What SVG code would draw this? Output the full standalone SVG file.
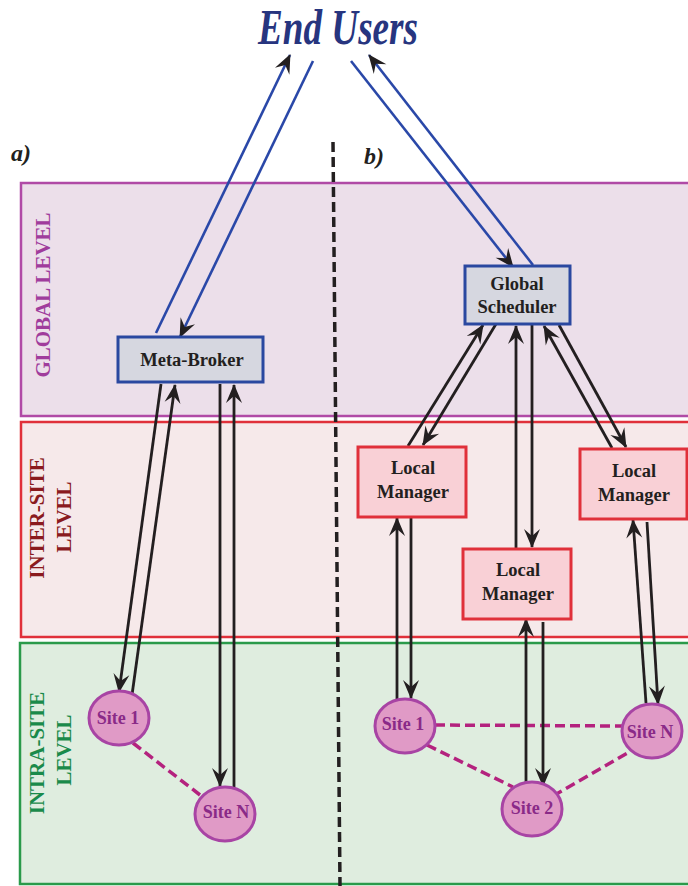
<svg xmlns="http://www.w3.org/2000/svg" width="688" height="886" viewBox="0 0 688 886">
<style>
.box{stroke-width:3}
.gb{fill:#d6d7e0;stroke:#2a48a0}
.lm{fill:#f9d0d6;stroke:#e0303a}
.site{fill:#e09ac6;stroke:#a844a4;stroke-width:3}
.bt{font-family:"Liberation Serif",serif;font-weight:bold;font-size:18.5px;fill:#231f20;text-anchor:middle}
.st{font-family:"Liberation Serif",serif;font-weight:bold;font-size:18px;fill:#8a2a88;text-anchor:middle}
.lv{font-family:"Liberation Serif",serif;font-weight:bold;font-size:21px;text-anchor:middle}
.u{stroke:#2a48a8;stroke-width:2.6;fill:none}
.k{stroke:#231f20;stroke-width:2.8;fill:none}
.d{stroke:#b4227e;stroke-width:3.5;stroke-dasharray:10 5;fill:none}
</style>
<defs>
<marker id="ah" viewBox="-19 -9 20 18" refX="0" refY="0" markerWidth="20" markerHeight="18" markerUnits="userSpaceOnUse" orient="auto">
<path d="M1,0 L-18,-8 L-11,0 L-18,8 Z" fill="#231f20"/>
</marker>
</defs>
<g id="bands">
<rect id="global-level" x="21" y="183" width="690" height="233" fill="#ecdfea" stroke="#b04aa6" stroke-width="2.5"/>
<rect id="inter-site-level" x="21" y="422" width="690" height="215" fill="#f6e9ea" stroke="#e0303a" stroke-width="2.5"/>
<rect id="intra-site-level" x="20" y="643" width="690" height="241" fill="#dfeddf" stroke="#2a9a4a" stroke-width="2.5"/>
</g>
<g id="labels">
<text x="258" y="44" font-family="Liberation Serif, serif" font-weight="bold" font-style="italic" font-size="50" fill="#27357f" textLength="160" lengthAdjust="spacingAndGlyphs">End Users</text>
<text x="11" y="161" font-family="Liberation Serif, serif" font-weight="bold" font-style="italic" font-size="24" fill="#231f20">a)</text>
<text x="364" y="164" font-family="Liberation Serif, serif" font-weight="bold" font-style="italic" font-size="24" fill="#231f20">b)</text>
<text class="lv" transform="translate(50,295) rotate(-90)" fill="#a03c9c">GLOBAL LEVEL</text>
<text class="lv" transform="translate(44,518) rotate(-90)" fill="#8a1a1e">INTER-SITE</text>
<text class="lv" transform="translate(71,517) rotate(-90)" fill="#8a1a1e">LEVEL</text>
<text class="lv" transform="translate(44,753) rotate(-90)" fill="#1a8a4a">INTRA-SITE</text>
<text class="lv" transform="translate(71,750) rotate(-90)" fill="#1a8a4a">LEVEL</text>
</g>
<line id="divider" x1="333" y1="142" x2="340" y2="886" stroke="#231f20" stroke-width="3.5" stroke-dasharray="10 5"/>
<g id="connectors">
<line class="d" x1="133" y1="743" x2="200" y2="795"/>
<line class="d" x1="435" y1="725" x2="622" y2="726"/>
<line class="d" x1="427" y1="745" x2="513" y2="787"/>
<line class="d" x1="553" y1="796" x2="631" y2="751"/>
<line class="u" x1="156" y1="333" x2="290" y2="55" marker-end="url(#ah)"/>
<line class="u" x1="313" y1="61" x2="180" y2="337" marker-end="url(#ah)"/>
<line class="u" x1="351" y1="61" x2="513" y2="267" marker-end="url(#ah)"/>
<line class="u" x1="533" y1="265" x2="369" y2="55" marker-end="url(#ah)"/>
<line class="k" x1="161" y1="384" x2="119" y2="692" marker-end="url(#ah)"/>
<line class="k" x1="132" y1="695" x2="175" y2="385" marker-end="url(#ah)"/>
<line class="k" x1="220" y1="384" x2="220" y2="786" marker-end="url(#ah)"/>
<line class="k" x1="234" y1="790" x2="234" y2="385" marker-end="url(#ah)"/>
<line class="k" x1="408" y1="446" x2="483" y2="325" marker-end="url(#ah)"/>
<line class="k" x1="496" y1="324" x2="423" y2="445" marker-end="url(#ah)"/>
<line class="k" x1="516" y1="548" x2="516" y2="326" marker-end="url(#ah)"/>
<line class="k" x1="532" y1="325" x2="532" y2="547" marker-end="url(#ah)"/>
<line class="k" x1="612" y1="448" x2="544" y2="326" marker-end="url(#ah)"/>
<line class="k" x1="559" y1="325" x2="626" y2="447" marker-end="url(#ah)"/>
<line class="k" x1="397" y1="701" x2="397" y2="518" marker-end="url(#ah)"/>
<line class="k" x1="411" y1="518" x2="411" y2="698" marker-end="url(#ah)"/>
<line class="k" x1="526" y1="782" x2="526" y2="619" marker-end="url(#ah)"/>
<line class="k" x1="543" y1="622" x2="543" y2="786" marker-end="url(#ah)"/>
<line class="k" x1="646" y1="703" x2="633" y2="520" marker-end="url(#ah)"/>
<line class="k" x1="647" y1="522" x2="658" y2="704" marker-end="url(#ah)"/>
</g>
<g id="meta-broker">
<rect class="box gb" x="118" y="337" width="145" height="45"/>
<text class="bt" x="192" y="366">Meta-Broker</text>
</g>
<g id="global-scheduler">
<rect class="box gb" x="465" y="266" width="105" height="58"/>
<text class="bt" x="517" y="290">Global</text>
<text class="bt" x="517" y="313">Scheduler</text>
</g>
<g id="local-manager-1">
<rect class="box lm" x="358" y="447" width="108" height="70"/>
<text class="bt" x="413" y="474">Local</text>
<text class="bt" x="413" y="498">Manager</text>
</g>
<g id="local-manager-2">
<rect class="box lm" x="463" y="549" width="108" height="70"/>
<text class="bt" x="518" y="576">Local</text>
<text class="bt" x="518" y="600">Manager</text>
</g>
<g id="local-manager-3">
<rect class="box lm" x="580" y="449" width="107" height="70"/>
<text class="bt" x="634" y="477">Local</text>
<text class="bt" x="634" y="501">Manager</text>
</g>
<g id="a-site-1">
<ellipse class="site" cx="119" cy="718" rx="30" ry="27"/>
<text class="st" x="118" y="724">Site 1</text>
</g>
<g id="a-site-n">
<ellipse class="site" cx="225" cy="814" rx="30" ry="27"/>
<text class="st" x="226" y="818">Site N</text>
</g>
<g id="b-site-1">
<ellipse class="site" cx="405" cy="726" rx="30" ry="27"/>
<text class="st" x="403" y="730">Site 1</text>
</g>
<g id="b-site-2">
<ellipse class="site" cx="532" cy="809" rx="30" ry="27"/>
<text class="st" x="532" y="814">Site 2</text>
</g>
<g id="b-site-n">
<ellipse class="site" cx="652" cy="731" rx="30" ry="27"/>
<text class="st" x="650" y="738">Site N</text>
</g>
</svg>
